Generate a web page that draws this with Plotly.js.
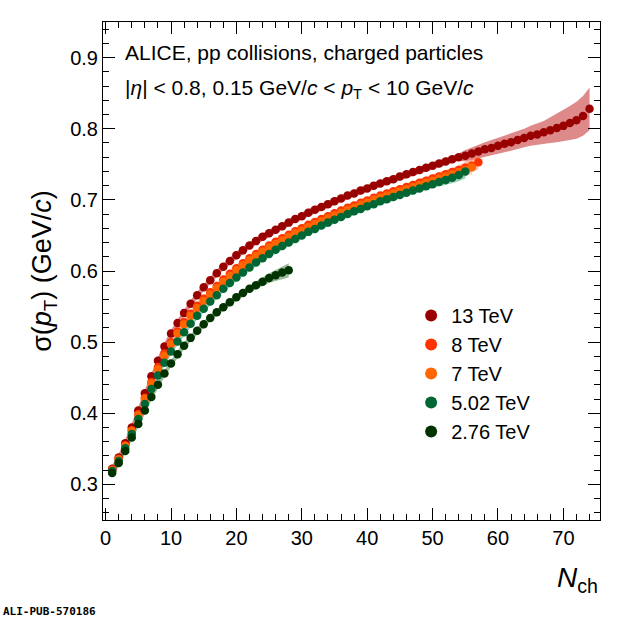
<!DOCTYPE html>
<html><head><script src="https://cdn.plot.ly/plotly-3.0.1.min.js"></script>
<style>body{margin:0}</style></head><body><div id="c" style="width:620px;height:620px"></div>
<script>
const labels=["13 TeV","8 TeV","7 TeV","5.02 TeV","2.76 TeV"];
const s13=[.322,.338,.358,.380,.404,.428,.452,.474,.494,.512,.527,.541,.554,.566,.577,.587,.597,.606,.614,.622,.629,.636,.642,.648,.653,.658,.663,.668,.673,.677,.682,.686,.690,.694,.698,.702,.706,.709,.713,.716,.720,.723,.726,.729,.733,.736,.739,.742,.745,.748,.751,.754,.757,.760,.762,.765,.768,.771,.773,.776,.779,.781,.784,.787,.790,.792,.795,.798,.801,.804,.808,.812,.818,.828];
const s8=[.321,.336,.355,.376,.399,.422,.444,.465,.484,.500,.515,.528,.540,.551,.561,.570,.579,.588,.596,.604,.611,.618,.624,.630,.636,.641,.646,.651,.656,.660,.665,.669,.673,.677,.681,.685,.689,.692,.696,.699,.703,.706,.709,.712,.715,.718,.721,.724,.727,.730,.733,.736,.739,.742,.745,.748,.753];
const s7=[.320,.335,.354,.375,.397,.420,.442,.462,.481,.497,.512,.525,.537,.548,.558,.567,.576,.585,.593,.601,.608,.615,.621,.627,.633,.638,.643,.648,.653,.657,.662,.666,.670,.674,.678,.682,.686,.689,.693,.696,.700,.703,.706,.709,.712,.715,.718,.721,.724,.727,.730,.733,.736,.739,.742,.746];
const s502=[.319,.333,.351,.371,.392,.413,.434,.453,.471,.487,.501,.514,.526,.537,.547,.557,.566,.575,.583,.591,.598,.605,.612,.618,.624,.630,.635,.640,.645,.650,.655,.659,.664,.668,.672,.676,.680,.684,.687,.691,.694,.698,.701,.704,.707,.710,.713,.716,.719,.722,.725,.728,.731,.735,.740];
const s276=[.316,.330,.347,.366,.385,.404,.423,.440,.456,.470,.483,.495,.506,.516,.525,.534,.542,.549,.556,.563,.569,.575,.580,.585,.590,.594,.598,.601];
const errBase=0.005;
const errTail13=[.008,.009,.010,.010,.011,.011,.012,.012,.013,.013,.014,.015,.016,.018,.020,.022,.024,.026,.028,.030];
const errTailOther=[.006,.007,.008,.009,.010];
const series=[s13,s8,s7,s502,s276];
const colors=["#990000","#ff3300","#ff6600","#006633","#003300"];
const bandCol=["rgba(200,60,60,0.6)","rgba(255,120,90,0.5)","rgba(255,160,100,0.5)","rgba(60,160,110,0.5)","rgba(60,120,60,0.5)"];
const traces=[];
series.forEach((s,k)=>{
  const x=s.map((_,i)=>i+1);
  const tail=k==0?errTail13:errTailOther;
  const e=s.map((_,i)=>{const j=i-(s.length-tail.length);return j>=0?tail[j]:errBase;});
  traces.push({x:x.concat(x.slice().reverse()),y:s.map((v,i)=>v+e[i]).concat(s.map((v,i)=>v-e[i]).reverse()),fill:'toself',fillcolor:bandCol[k],line:{width:0},mode:'lines',showlegend:false,hoverinfo:'skip'});
});
series.forEach((s,k)=>{
  traces.push({x:s.map((_,i)=>i+1),y:s,mode:'markers',name:labels[k],marker:{color:colors[k],size:8.5},error_y:{type:'constant',value:0.003,color:colors[k],thickness:2,width:0}});
});
const ax={ticks:'inside',mirror:'allticks',showline:true,linecolor:'black',linewidth:1,ticklen:12,tickcolor:'black',showgrid:false,zeroline:false,tickfont:{size:20}};
Plotly.newPlot('c',traces,{width:620,height:620,margin:{l:103,r:20,t:22,b:100},
font:{family:'Liberation Sans, Arial',color:'black'},plot_bgcolor:'white',paper_bgcolor:'white',
xaxis:Object.assign({},ax,{range:[-0.4,75.6],dtick:10,minor:{ticks:'inside',ticklen:6,dtick:2,tickcolor:'black'}}),
yaxis:Object.assign({},ax,{range:[0.25,0.95],dtick:0.1,tickformat:'.1f',minor:{ticks:'inside',ticklen:6,dtick:0.02,tickcolor:'black'},title:{text:'σ(<i>p</i><sub>T</sub>) (GeV/<i>c</i>)',font:{size:27},standoff:10}}),
legend:{x:0.62,y:0.45,xanchor:'left',yanchor:'top',font:{size:20},bgcolor:'rgba(0,0,0,0)',itemsizing:'constant',tracegroupgap:10},
annotations:[
{xref:'paper',yref:'paper',x:0.04,y:0.965,xanchor:'left',yanchor:'top',showarrow:false,text:'ALICE, pp collisions, charged particles',font:{size:21}},
{xref:'paper',yref:'paper',x:0.04,y:0.895,xanchor:'left',yanchor:'top',showarrow:false,text:'|<i>η</i>| < 0.8, 0.15 GeV/<i>c</i> < <i>p</i><sub>T</sub> < 10 GeV/<i>c</i>',font:{size:21}},
{xref:'paper',yref:'paper',x:1.0,y:-0.08,xanchor:'right',yanchor:'top',showarrow:false,text:'<i>N</i><sub>ch</sub>',font:{size:28}},
{xref:'paper',yref:'paper',x:-0.205,y:-0.2,xanchor:'left',yanchor:'bottom',showarrow:false,text:'<b>ALI-PUB-570186</b>',font:{size:11,family:'DejaVu Sans Mono'}}
]},{displayModeBar:false});
</script></body></html>
